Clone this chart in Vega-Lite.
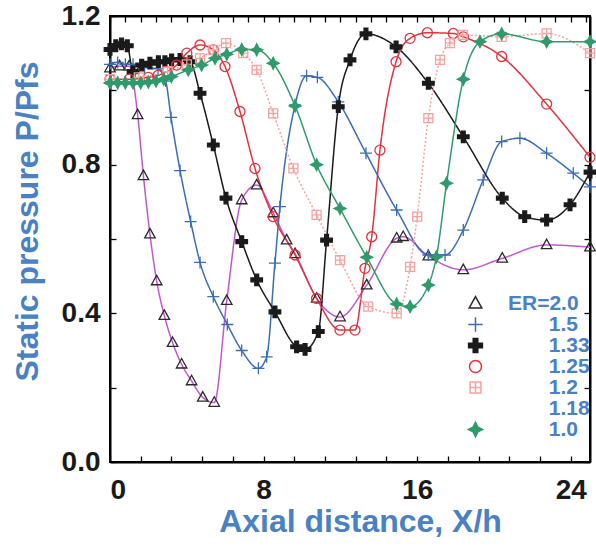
{
  "$schema": "https://vega.github.io/schema/vega-lite/v6.json",
  "width": 480,
  "height": 446,
  "autosize": {"type": "none"},
  "padding": {"left": 110, "top": 16, "right": 6, "bottom": 86},
  "background": "white",
  "config": {
    "view": {"stroke": "black", "strokeWidth": 2},
    "font": "Liberation Sans",
    "axis": {
      "domainColor": "black", "domainWidth": 2, "tickColor": "black", "tickWidth": 1.3, "tickSize": -6,
      "grid": false, "labelFont": "Liberation Sans", "labelFontWeight": "bold", "labelColor": "#1a1a1a",
      "titleFont": "Liberation Sans", "titleFontWeight": "bold", "titleColor": "#4a80c4", "labelOverlap": "greedy", "labelSeparation": 0
    },
    "legend": {
      "orient": "none", "legendX": 355, "legendY": 277, "padding": 0,
      "symbolSize": 144, "symbolStrokeWidth": 1.5,
      "labelFont": "Liberation Sans", "labelFontSize": 21, "labelFontWeight": "bold", "labelColor": "#4a80c4",
      "labelOffset": 22, "rowPadding": -2
    }
  },
  "data": {"values": [
    {"ER":"2.0","x":0,"y":1.06},{"ER":"2.0","x":0.5,"y":1.065},{"ER":"2.0","x":1.0,"y":1.065},{"ER":"2.0","x":1.44,"y":0.934},{"ER":"2.0","x":1.74,"y":0.77},{"ER":"2.0","x":2.08,"y":0.613},{"ER":"2.0","x":2.43,"y":0.487},{"ER":"2.0","x":2.83,"y":0.394},{"ER":"2.0","x":3.26,"y":0.321},{"ER":"2.0","x":3.73,"y":0.263},{"ER":"2.0","x":4.25,"y":0.218},{"ER":"2.0","x":4.83,"y":0.174},{"ER":"2.0","x":5.43,"y":0.16},{"ER":"2.0","x":6.08,"y":0.434},{"ER":"2.0","x":6.86,"y":0.705},{"ER":"2.0","x":7.64,"y":0.745},{"ER":"2.0","x":8.5,"y":0.67},{"ER":"2.0","x":9.2,"y":0.597},{"ER":"2.0","x":9.64,"y":0.56},{"ER":"2.0","x":10.77,"y":0.44},{"ER":"2.0","x":11.98,"y":0.39},{"ER":"2.0","x":13.37,"y":0.476},{"ER":"2.0","x":14.93,"y":0.602},{"ER":"2.0","x":15.27,"y":0.606},{"ER":"2.0","x":16.58,"y":0.554},{"ER":"2.0","x":18.4,"y":0.517},{"ER":"2.0","x":20.43,"y":0.548},{"ER":"2.0","x":22.74,"y":0.584},{"ER":"2.0","x":25.0,"y":0.578},
    {"ER":"1.5","x":0,"y":1.07},{"ER":"1.5","x":0.4,"y":1.075},{"ER":"1.5","x":0.8,"y":1.07},{"ER":"1.5","x":1.2,"y":1.07},{"ER":"1.5","x":1.8,"y":1.062},{"ER":"1.5","x":2.5,"y":1.058},{"ER":"1.5","x":2.9,"y":1.025},{"ER":"1.5","x":3.18,"y":0.927},{"ER":"1.5","x":3.65,"y":0.784},{"ER":"1.5","x":4.2,"y":0.647},{"ER":"1.5","x":4.69,"y":0.537},{"ER":"1.5","x":5.38,"y":0.445},{"ER":"1.5","x":6.11,"y":0.37},{"ER":"1.5","x":6.86,"y":0.3},{"ER":"1.5","x":7.73,"y":0.252},{"ER":"1.5","x":8.16,"y":0.283},{"ER":"1.5","x":8.59,"y":0.535},{"ER":"1.5","x":8.85,"y":0.687},{"ER":"1.5","x":9.64,"y":0.961},{"ER":"1.5","x":10.24,"y":1.039},{"ER":"1.5","x":10.8,"y":1.035},{"ER":"1.5","x":11.89,"y":0.969},{"ER":"1.5","x":13.33,"y":0.831},{"ER":"1.5","x":14.93,"y":0.678},{"ER":"1.5","x":16.58,"y":0.557},{"ER":"1.5","x":17.45,"y":0.557},{"ER":"1.5","x":18.4,"y":0.624},{"ER":"1.5","x":19.44,"y":0.759},{"ER":"1.5","x":20.4,"y":0.862},{"ER":"1.5","x":21.35,"y":0.871},{"ER":"1.5","x":22.74,"y":0.831},{"ER":"1.5","x":24.13,"y":0.777},{"ER":"1.5","x":25.0,"y":0.74},
    {"ER":"1.33","x":0,"y":1.11},{"ER":"1.33","x":0.3,"y":1.12},{"ER":"1.33","x":0.6,"y":1.125},{"ER":"1.33","x":0.9,"y":1.12},{"ER":"1.33","x":1.2,"y":1.05},{"ER":"1.33","x":1.65,"y":1.068},{"ER":"1.33","x":2.08,"y":1.073},{"ER":"1.33","x":2.52,"y":1.077},{"ER":"1.33","x":2.86,"y":1.077},{"ER":"1.33","x":3.21,"y":1.082},{"ER":"1.33","x":3.65,"y":1.083},{"ER":"1.33","x":4.17,"y":1.077},{"ER":"1.33","x":4.69,"y":0.992},{"ER":"1.33","x":5.38,"y":0.853},{"ER":"1.33","x":6.04,"y":0.71},{"ER":"1.33","x":6.86,"y":0.593},{"ER":"1.33","x":7.64,"y":0.49},{"ER":"1.33","x":8.59,"y":0.404},{"ER":"1.33","x":9.72,"y":0.31},{"ER":"1.33","x":10.16,"y":0.303},{"ER":"1.33","x":10.85,"y":0.351},{"ER":"1.33","x":11.28,"y":0.597},{"ER":"1.33","x":11.89,"y":0.956},{"ER":"1.33","x":12.5,"y":1.082},{"ER":"1.33","x":13.33,"y":1.152},{"ER":"1.33","x":14.9,"y":1.117},{"ER":"1.33","x":16.58,"y":1.019},{"ER":"1.33","x":18.4,"y":0.875},{"ER":"1.33","x":20.43,"y":0.71},{"ER":"1.33","x":21.6,"y":0.66},{"ER":"1.33","x":22.74,"y":0.651},{"ER":"1.33","x":23.96,"y":0.692},{"ER":"1.33","x":25.0,"y":0.78},
    {"ER":"1.25","x":0,"y":1.03},{"ER":"1.25","x":1.0,"y":1.03},{"ER":"1.25","x":2.0,"y":1.035},{"ER":"1.25","x":2.5,"y":1.04},{"ER":"1.25","x":2.95,"y":1.05},{"ER":"1.25","x":3.47,"y":1.068},{"ER":"1.25","x":4.0,"y":1.1},{"ER":"1.25","x":4.69,"y":1.122},{"ER":"1.25","x":5.38,"y":1.109},{"ER":"1.25","x":5.99,"y":1.064},{"ER":"1.25","x":6.77,"y":0.943},{"ER":"1.25","x":7.55,"y":0.79},{"ER":"1.25","x":8.5,"y":0.66},{"ER":"1.25","x":9.64,"y":0.557},{"ER":"1.25","x":10.76,"y":0.44},{"ER":"1.25","x":11.98,"y":0.355},{"ER":"1.25","x":12.76,"y":0.355},{"ER":"1.25","x":13.28,"y":0.521},{"ER":"1.25","x":13.63,"y":0.606},{"ER":"1.25","x":14.06,"y":0.839},{"ER":"1.25","x":14.9,"y":1.077},{"ER":"1.25","x":15.63,"y":1.14},{"ER":"1.25","x":16.53,"y":1.155},{"ER":"1.25","x":17.88,"y":1.153},{"ER":"1.25","x":18.4,"y":1.144},{"ER":"1.25","x":20.4,"y":1.091},{"ER":"1.25","x":22.74,"y":0.963},{"ER":"1.25","x":25.0,"y":0.82},
    {"ER":"1.2","x":0,"y":1.03},{"ER":"1.2","x":1.5,"y":1.035},{"ER":"1.2","x":3.0,"y":1.05},{"ER":"1.2","x":4.0,"y":1.07},{"ER":"1.2","x":4.69,"y":1.086},{"ER":"1.2","x":5.38,"y":1.109},{"ER":"1.2","x":6.04,"y":1.127},{"ER":"1.2","x":6.94,"y":1.1},{"ER":"1.2","x":7.64,"y":1.055},{"ER":"1.2","x":8.5,"y":0.938},{"ER":"1.2","x":9.55,"y":0.79},{"ER":"1.2","x":10.76,"y":0.665},{"ER":"1.2","x":11.98,"y":0.543},{"ER":"1.2","x":13.45,"y":0.418},{"ER":"1.2","x":14.93,"y":0.4},{"ER":"1.2","x":15.63,"y":0.525},{"ER":"1.2","x":16.0,"y":0.66},{"ER":"1.2","x":16.58,"y":0.925},{"ER":"1.2","x":17.19,"y":1.082},{"ER":"1.2","x":17.7,"y":1.127},{"ER":"1.2","x":18.37,"y":1.149},{"ER":"1.2","x":20.4,"y":1.144},{"ER":"1.2","x":22.74,"y":1.153},{"ER":"1.2","x":25.0,"y":1.1},
    {"ER":"1.0","x":0,"y":1.02},{"ER":"1.0","x":0.4,"y":1.02},{"ER":"1.0","x":0.8,"y":1.02},{"ER":"1.0","x":1.2,"y":1.02},{"ER":"1.0","x":1.6,"y":1.02},{"ER":"1.0","x":2.0,"y":1.022},{"ER":"1.0","x":2.4,"y":1.025},{"ER":"1.0","x":2.8,"y":1.03},{"ER":"1.0","x":3.2,"y":1.037},{"ER":"1.0","x":4.08,"y":1.055},{"ER":"1.0","x":4.77,"y":1.068},{"ER":"1.0","x":5.47,"y":1.086},{"ER":"1.0","x":6.08,"y":1.097},{"ER":"1.0","x":6.86,"y":1.11},{"ER":"1.0","x":7.64,"y":1.109},{"ER":"1.0","x":8.5,"y":1.073},{"ER":"1.0","x":9.64,"y":0.958},{"ER":"1.0","x":10.76,"y":0.8},{"ER":"1.0","x":11.98,"y":0.682},{"ER":"1.0","x":13.37,"y":0.551},{"ER":"1.0","x":14.93,"y":0.425},{"ER":"1.0","x":15.63,"y":0.418},{"ER":"1.0","x":16.58,"y":0.476},{"ER":"1.0","x":17.0,"y":0.552},{"ER":"1.0","x":17.53,"y":0.75},{"ER":"1.0","x":18.4,"y":1.03},{"ER":"1.0","x":19.27,"y":1.131},{"ER":"1.0","x":20.4,"y":1.152},{"ER":"1.0","x":22.74,"y":1.131},{"ER":"1.0","x":25.0,"y":1.131}
  ]},
  "layer": [
    {
      "mark": {"type": "line", "interpolate": "monotone", "strokeWidth": 1.5},
      "encoding": {
        "x": {"field": "x", "type": "quantitative",
          "scale": {"domain": [0, 25], "nice": false, "zero": false},
          "axis": {"orient": "bottom", "labelOverlap": "greedy", "labelSeparation": 0,
            "values": [0,0.8,1.6,2.4,3.2,4,4.8,5.6,6.4,7.2,8,8.8,9.6,10.4,11.2,12,12.8,13.6,14.4,15.2,16,16.8,17.6,18.4,19.2,20,20.8,21.6,22.4,23.2,24,24.8],
            "format": "d", "labelExpr": "datum.value % 4 == 0 ? datum.label : ''",
            "labelFontSize": 28, "labelPadding": 20,
            "title": "Axial distance, X/h", "titleFontSize": 32, "titleX": 250, "titleY": 69, "titleAlign": "center", "titleBaseline": "alphabetic"}},
        "y": {"field": "y", "type": "quantitative",
          "scale": {"domain": [0, 1.2], "nice": false, "zero": false},
          "axis": {"orient": "left", "labelOverlap": "greedy", "labelSeparation": 0, "values": [0,0.2,0.4,0.6,0.8,1,1.2],
            "format": ".1f", "labelExpr": "datum.value == 0 || datum.value == 0.4 || datum.value == 0.8 || datum.value == 1.2 ? datum.label : ''",
            "labelFontSize": 28, "labelPadding": 16,
            "title": "Static pressure P/Pfs", "titleFontSize": 32, "titleX": -73, "titleY": 205, "titleAlign": "center", "titleBaseline": "alphabetic"}},
        "color": {"field": "ER", "type": "nominal", "legend": null,
          "scale": {"domain": ["1.0","1.18","1.2","1.25","1.33","1.5","2.0"],
            "range": ["#2f9a6c","#ffffff","#f5a3a0","#e2323f","#1a1a1a","#3b6db3","#c455d2"]}},
        "strokeDash": {"field": "ER", "type": "nominal", "legend": null,
          "scale": {"domain": ["1.0","1.18","1.2","1.25","1.33","1.5","2.0"],
            "range": [[1,0],[1,0],[2,2],[1,0],[1,0],[1,0],[1,0]]}},
        "order": {"field": "x", "type": "quantitative"}
      }
    },
    {
      "mark": {"type": "point", "filled": false, "opacity": 1, "size": 100, "strokeWidth": 1.3},
      "encoding": {
        "x": {"field": "x", "type": "quantitative",
          "axis": {"orient": "top", "labels": false, "title": null,
            "values": [0,0.8,1.6,2.4,3.2,4,4.8,5.6,6.4,7.2,8,8.8,9.6,10.4,11.2,12,12.8,13.6,14.4,15.2,16,16.8,17.6,18.4,19.2,20,20.8,21.6,22.4,23.2,24,24.8]}},
        "y": {"field": "y", "type": "quantitative",
          "axis": {"orient": "right", "labels": false, "title": null, "values": [0,0.2,0.4,0.6,0.8,1,1.2]}},
        "stroke": {"field": "ER", "type": "nominal",
          "scale": {"domain": ["2.0","1.5","1.33","1.25","1.2","1.18","1.0"],
            "range": ["#2a2a2a","#3b6db3","#1a1a1a","#e2323f","#f5a3a0","#ffffff","#2f9a6c"]},
          "legend": {"title": null, "labelExpr": "datum.value == '2.0' ? 'ER=2.0' : '\\u200b\\u00a0\\u00a0\\u00a0\\u00a0\\u00a0\\u00a0\\u00a0' + datum.value"}},
        "fill": {"field": "ER", "type": "nominal",
          "scale": {"domain": ["2.0","1.5","1.33","1.25","1.2","1.18","1.0"],
            "range": ["transparent","transparent","#1a1a1a","transparent","transparent","transparent","#2f9a6c"]},
          "legend": {"title": null, "labelExpr": "datum.value == '2.0' ? 'ER=2.0' : '\\u200b\\u00a0\\u00a0\\u00a0\\u00a0\\u00a0\\u00a0\\u00a0' + datum.value"}},
        "shape": {"field": "ER", "type": "nominal",
          "scale": {"domain": ["2.0","1.5","1.33","1.25","1.2","1.18","1.0"],
            "range": ["M0,-1.15L1.05,0.75L-1.05,0.75Z","M-1.2,0H1.2M0,-1.2V1.2","M-0.38,-1.15H0.38V-0.38H1.15V0.38H0.38V1.15H-0.38V0.38H-1.15V-0.38H-0.38Z","circle","M-0.9,-0.9H0.9V0.9H-0.9ZM-0.9,0H0.9M0,-0.9V0.9","M0,0","M0,-1.2L0.4,-0.4L1.2,0L0.4,0.4L0,1.2L-0.4,0.4L-1.2,0L-0.4,-0.4Z"]},
          "legend": {"title": null, "labelExpr": "datum.value == '2.0' ? 'ER=2.0' : '\\u200b\\u00a0\\u00a0\\u00a0\\u00a0\\u00a0\\u00a0\\u00a0' + datum.value"}}
      }
    }
  ],
  "resolve": {"axis": {"x": "independent", "y": "independent"}}
}
